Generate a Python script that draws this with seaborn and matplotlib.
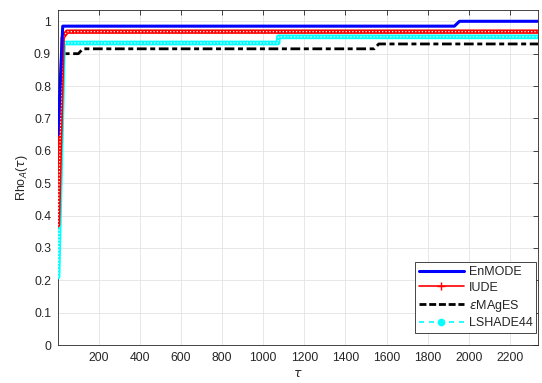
import pandas as pd
import matplotlib.pyplot as plt
import seaborn as sns
from matplotlib.lines import Line2D

# performance profile breakpoints
tau_enmode = [1, 24, 1930, 1955, 2340]
rho_enmode = [0.65, 0.985, 0.985, 1.0, 1.0]

tau_iude = [1, 24, 45, 2340]
rho_iude = [0.37, 0.95, 0.968, 0.968]

tau_emages = [1, 28, 100, 122, 1540, 1562, 2340]
rho_emages = [0.32, 0.90, 0.90, 0.915, 0.915, 0.93, 0.93]

tau_lshade = [1, 28, 1072, 1074, 2340]
rho_lshade = [0.21, 0.933, 0.933, 0.952, 0.952]

x_ticks = [200, 400, 600, 800, 1000, 1200, 1400, 1600, 1800, 2000, 2200]
y_ticks = [0, 0.1, 0.2, 0.3, 0.4, 0.5, 0.6, 0.7, 0.8, 0.9, 1]

sns.set_style("white")
plt.rcParams['font.family'] = ['Liberation Sans', 'DejaVu Sans']
plt.rcParams['mathtext.fontset'] = 'dejavusans'

fig = plt.figure(figsize=(5.42, 3.83), dpi=100)
ax = fig.add_axes([0.107, 0.099, 0.886, 0.875])

df_en = pd.DataFrame({'tau': tau_enmode, 'rho': rho_enmode})
df_iu = pd.DataFrame({'tau': tau_iude, 'rho': rho_iude})
df_em = pd.DataFrame({'tau': tau_emages, 'rho': rho_emages})
df_ls = pd.DataFrame({'tau': tau_lshade, 'rho': rho_lshade})

# EnMODE - solid blue
sns.lineplot(data=df_en, x='tau', y='rho', ax=ax, color='#0000ff', lw=2.2,
             estimator=None, sort=False, zorder=5)
# IUDE - red with dense '+' markers (emulated by a white dotted overlay)
sns.lineplot(data=df_iu, x='tau', y='rho', ax=ax, color='#ff0000', lw=3.2,
             estimator=None, sort=False, zorder=4)
sns.lineplot(data=df_iu, x='tau', y='rho', ax=ax, color='white', lw=0.9,
             linestyle=':', estimator=None, sort=False, zorder=4.1)
# eMAgES - black dash-dot
sns.lineplot(data=df_em, x='tau', y='rho', ax=ax, color='black', lw=2.0,
             dashes=(3.5, 1.3, 1.8, 1.3), estimator=None, sort=False, zorder=3)
# LSHADE44 - cyan dashed with circles
sns.lineplot(data=df_ls, x='tau', y='rho', ax=ax, color='#00ffff', lw=3.4,
             estimator=None, sort=False, zorder=3.5)
sns.lineplot(data=df_ls, x='tau', y='rho', ax=ax, color='white', lw=0.9,
             linestyle=':', estimator=None, sort=False, zorder=3.6)

ax.set_xlim(1, 2338)
ax.set_ylim(0, 1.035)
ax.set_xticks(x_ticks)
ax.set_yticks(y_ticks)
ax.set_yticklabels([f"{v:g}" for v in y_ticks])
ax.tick_params(direction='in', length=3.5, width=0.6, labelsize=8.8,
               top=True, right=True, colors='#262626', pad=5)
ax.grid(True, color='#e3e3e3', lw=0.6)
ax.set_axisbelow(True)
for s in ax.spines.values():
    s.set_color('#262626')
    s.set_linewidth(0.6)

ax.set_xlabel(r'$\tau$', fontsize=9, color='#262626', labelpad=3)
ax.set_ylabel(r'Rho$_A$($\tau$)', fontsize=9, color='#262626', labelpad=3)

handles = [
    Line2D([], [], color='#0000ff', lw=2.2),
    Line2D([], [], color='#ff0000', lw=1.2, marker='+', markersize=6),
    Line2D([], [], color='black', lw=2.0, dashes=(2.5, 1)),
    Line2D([], [], color='#00ffff', lw=1.2, dashes=(3, 3), marker='o',
           markersize=4.5),
]
labels = ['EnMODE', 'IUDE', r'$\epsilon$MAgES', 'LSHADE44']
leg = ax.legend(handles, labels, loc='lower right', fontsize=9,
                bbox_to_anchor=(0.996, 0.036), borderaxespad=0,
                frameon=True, fancybox=False, edgecolor='#262626',
                framealpha=1, handlelength=3.6,
                handletextpad=0.4, labelspacing=0.3, borderpad=0.3)
leg.get_frame().set_linewidth(0.6)

fig.savefig('out.png', dpi=100)
